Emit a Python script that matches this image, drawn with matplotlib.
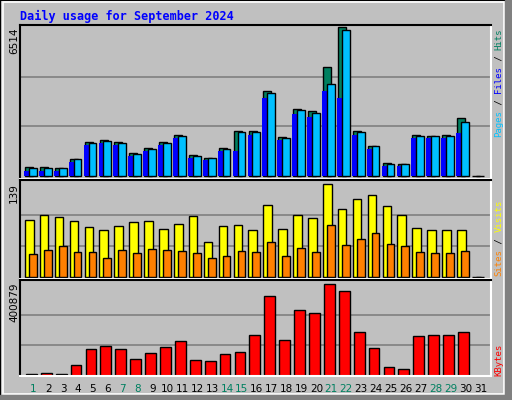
import matplotlib
matplotlib.use("Agg")
import matplotlib.pyplot as plt
from matplotlib.patches import Rectangle

days = list(range(1, 32))
hits  = [390, 390, 350, 740, 1475, 1560, 1475, 1000, 1215, 1475, 1780, 910, 780, 1215, 1950,
         1950, 3730, 1690, 2950, 2860, 4775, 6514, 1950, 1300, 560, 520, 1780, 1735, 1780, 2515, 0]
files = [350, 350, 350, 740, 1430, 1520, 1430, 960, 1170, 1430, 1735, 870, 780, 1170, 1910,
         1910, 3650, 1650, 2900, 2770, 4035, 6380, 1910, 1300, 520, 520, 1735, 1735, 1735, 2340, 0]
pages = [220, 220, 220, 610, 1350, 1430, 1350, 870, 1080, 1350, 1650, 780, 690, 1080, 1080,
         1780, 3430, 1560, 2730, 2600, 3730, 3430, 1780, 1170, 430, 430, 1650, 1650, 1650, 1860, 0]
visits = [84.5, 92, 89, 83, 74, 69.5, 75.5, 81.5, 83, 71, 78.5, 90.5, 51.5, 75.5, 77,
          69.5, 107, 71, 92, 87.5, 139, 101, 116, 122, 105.5, 92, 72.5, 69.5, 69.5, 69.5, 0]
sites = [33.5, 39.5, 45.5, 36.5, 36.5, 27.5, 39.5, 35, 41, 39.5, 38, 35, 27.5, 30.5, 38,
         36.5, 51.5, 30.5, 42.5, 36.5, 77, 47, 56, 65, 48.5, 45.5, 36.5, 35, 35, 38, 0]
kbytes = [7300, 11700, 7300, 45350, 115600, 128750, 115600, 71700, 98000, 124350, 150700, 67300,
          62900, 93600, 102400, 177000, 348200, 155100, 286800, 273600, 400879, 370200, 190200,
          120000, 36600, 27800, 172600, 177000, 177000, 190200, 0]
weekends = [1, 7, 8, 14, 15, 21, 22, 28, 29]

BG = "#C0C0C0"
fig = plt.figure(figsize=(5.12, 4.0), dpi=100, facecolor=BG)
W, H = 512, 400

def fax(x0, y0, x1, y1):
    return fig.add_axes([x0 / W, 1 - y1 / H, (x1 - x0) / W, (y1 - y0) / H])

# frame
fig.patches.append(Rectangle((0, 0), 1, 1, transform=fig.transFigure, fill=False, ec="black", lw=1.5))
fig.patches.append(Rectangle((3 / W, 6 / H), 501 / W, 392 / H, transform=fig.transFigure, fill=False, ec="white", lw=1.2))
fig.patches.append(Rectangle((505 / W, 0), 7 / W, 1, transform=fig.transFigure, color="#808080"))
fig.patches.append(Rectangle((0, 0), 1, 5 / H, transform=fig.transFigure, color="#808080"))

XL = ((20 - 33.3) / 14.9 + 1, (491 - 33.3) / 14.9 + 1)

def style(ax, ylim, top):
    ax.set_facecolor(BG)
    ax.set_xlim(*XL)
    ax.set_ylim(*ylim)
    ax.set_xticks([]); ax.set_yticks([])
    for g in (top / 3, 2 * top / 3):
        ax.axhline(g, color="#808080", lw=1.2, zorder=0)
    ax.spines["top"].set_color("black"); ax.spines["left"].set_color("black")
    ax.spines["right"].set_color("white"); ax.spines["bottom"].set_color("white")
    for s in ax.spines.values():
        s.set_linewidth(1.5)

kw = dict(align="edge", edgecolor="black", linewidth=1)
ax1 = fax(20, 25, 491, 179)
style(ax1, (-131, 6601), 6514)
ax1.bar([d - 0.557 for d in days], hits, width=0.54, color="#008060", **kw)
ax1.bar([d - 0.42 for d in days], pages, width=0.4, color="#0000FF", edgecolor="none")
ax1.bar([d - 0.29 for d in days], files, width=0.52, color="#00C0FF", **kw)

ax2 = fax(20, 180, 491, 279)
style(ax2, (-3.4, 145), 139)
ax2.bar([d - 0.56 for d in days], visits, width=0.58, color="#FFFF00", **kw)
ax2.bar([d - 0.29 for d in days], sites, width=0.52, color="#FF8000", **kw)

ax3 = fax(20, 280, 491, 376)
style(ax3, (-1300, 419700), 400879)
ax3.bar([d - 0.49 for d in days], kbytes, width=0.72, color="#FF0000", **kw)

mono = "DejaVu Sans Mono"
fig.text(20 / W, 1 - 16 / H, "Daily usage for September 2024", color="#0000FF",
         fontweight="bold", family=mono, fontsize=8.5, va="center")
for txt, y in (("6514", 28), ("139", 183), ("400879", 283)):
    fig.text(14 / W, 1 - y / H, txt, rotation=90, va="top", ha="center", fontsize=7.5, family="DejaVu Sans")

def side(parts, ybottom):
    i = 0
    for s, c in parts:
        fig.text(499 / W, 1 - (ybottom - i * 5.45) / H, s, rotation=90, color=c, family=mono,
                 fontsize=6.5, ha="center", va="bottom")
        i += len(s)

side([("Pages", "#00C0FF"), (" / ", "black"), ("Files", "#0000FF"), (" / ", "black"), ("Hits", "#008060")], 137)
side([("Sites", "#FF8000"), (" / ", "black"), ("Visits", "#FFFF00")], 276)
side([("KBytes", "#FF0000")], 376)

for d in days:
    x = (33.3 + (d - 1) * 14.9) / W
    fig.text(x, 1 - 389 / H, str(d), ha="center", va="center", fontsize=7.5,
             color="#008060" if d in weekends else "black")

fig.savefig("out.png", dpi=100, facecolor=BG)
